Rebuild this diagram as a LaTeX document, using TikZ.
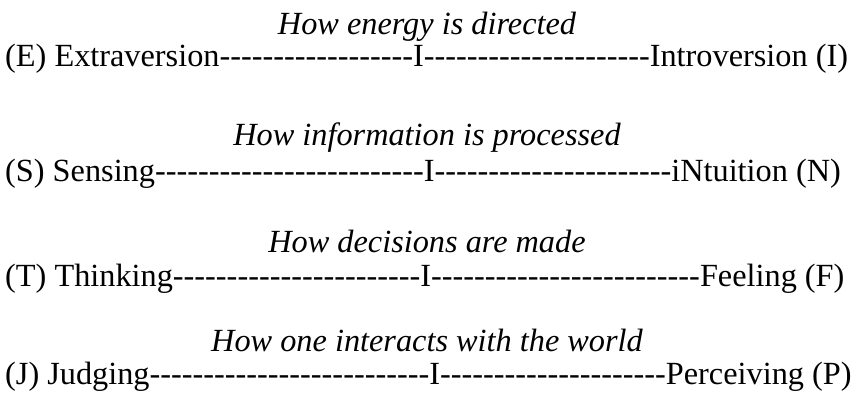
\documentclass[tikz,border=0pt]{standalone}
\usepackage{fontspec}
% plain hyphens: no --- to em dash mapping
\setmainfont{Liberation Serif}[Ligatures=TeXOff]
\begin{document}
\begin{tikzpicture}[x=1pt,y=1pt,
  heading/.style={anchor=base,inner sep=0pt,font=\fontsize{32.3}{36}\selectfont\itshape},
  scale line/.style={anchor=base west,inner sep=0pt,font=\fontsize{32.3}{36}\selectfont}]
\useasboundingbox (0,0) rectangle (854,411);
% energy
\node[heading] (t1) at (427,376) {How energy is directed};
\node[scale line] (l1) at (5,344) {(E) Extraversion------------------I---------------------Introversion (I)};
% information
\node[heading] (t2) at (427,265) {How information is processed};
\node[scale line] (l2) at (5,229) {(S) Sensing-------------------------I----------------------iNtuition (N)};
% decisions
\node[heading] (t3) at (427,158) {How decisions are made};
\node[scale line] (l3) at (5,124) {(T) Thinking-----------------------I-------------------------Feeling (F)};
% world
\node[heading] (t4) at (427,59) {How one interacts with the world};
\node[scale line] (l4) at (5,26) {(J) Judging--------------------------I---------------------Perceiving (P)};
\end{tikzpicture}
\end{document}
